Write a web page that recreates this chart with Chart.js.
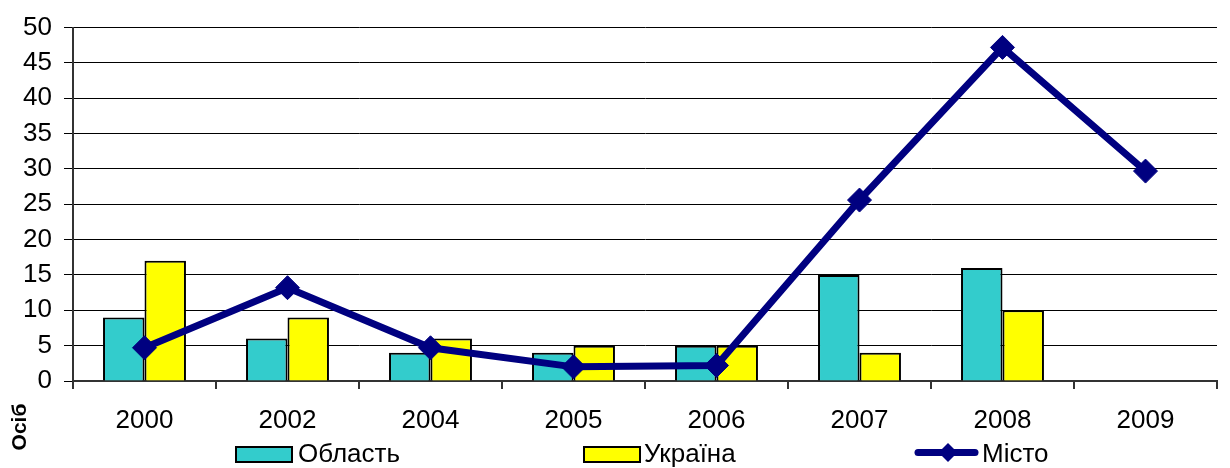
<!DOCTYPE html>
<html>
<head>
<meta charset="utf-8">
<script src="https://cdn.jsdelivr.net/npm/chart.js@4/dist/chart.umd.min.js"></script>
<style>
html,body{margin:0;padding:0;background:#fff;}
#wrap{width:1230px;height:468px;position:relative;}
</style>
</head>
<body>
<div id="wrap"><canvas id="c" width="1230" height="468"></canvas></div>
<script>
const categories = ['2000','2002','2004','2005','2006','2007','2008','2009'];
const oblast = [9, 6, 4, 4, 5, 15, 16, null];
const ukraina = [17, 9, 6, 5, 5, 4, 10, null];
const misto = [4.7, 13.2, 4.7, 2.0, 2.2, 25.6, 47.2, 29.7];
const yTicks = [0, 5, 10, 15, 20, 25, 30, 35, 40, 45, 50];
const axisTitle = 'Осіб';
const seriesNames = ['Область', 'Україна', 'Місто'];

const FONT = '"Liberation Sans", Arial, sans-serif';

const customPlugin = {
  id: 'custom',
  afterDraw(chart) {
    const ctx = chart.ctx;
    ctx.save();
    // y axis title
    ctx.font = 'bold 21px ' + FONT;
    ctx.fillStyle = '#000';
    ctx.translate(20, 427);
    ctx.rotate(-Math.PI / 2);
    ctx.textAlign = 'center';
    ctx.textBaseline = 'middle';
    ctx.fillText(axisTitle, 0, 0);
    ctx.restore();

    // legend
    ctx.save();
    ctx.font = '26px ' + FONT;
    ctx.textBaseline = 'middle';
    ctx.textAlign = 'left';
    const ds = chart.data.datasets;
    const ly = 454.5;
    // Область
    ctx.fillStyle = ds[0].backgroundColor;
    ctx.strokeStyle = '#000';
    ctx.lineWidth = 2;
    ctx.fillRect(236, 447, 56, 15);
    ctx.strokeRect(236, 447, 56, 15);
    ctx.fillStyle = '#000';
    ctx.fillText(ds[0].label, 298, ly);
    // Україна
    ctx.fillStyle = ds[1].backgroundColor;
    ctx.fillRect(584, 447, 56, 15);
    ctx.strokeRect(584, 447, 56, 15);
    ctx.fillStyle = '#000';
    ctx.fillText(ds[1].label, 644, ly);
    // Місто
    const my = 452.5;
    ctx.strokeStyle = ds[2].borderColor;
    ctx.lineWidth = 7;
    ctx.lineCap = 'round';
    ctx.beginPath();
    ctx.moveTo(918, my);
    ctx.lineTo(975, my);
    ctx.stroke();
    ctx.fillStyle = ds[2].borderColor;
    ctx.beginPath();
    const cx = 948, r = 9.5;
    ctx.moveTo(cx, my - r);
    ctx.lineTo(cx + r, my);
    ctx.lineTo(cx, my + r);
    ctx.lineTo(cx - r, my);
    ctx.closePath();
    ctx.fill();
    ctx.fillStyle = '#000';
    ctx.fillText(ds[2].label, 982, ly);
    ctx.restore();
  }
};

new Chart(document.getElementById('c'), {
  data: {
    labels: categories,
    datasets: [
      {
        type: 'bar', label: seriesNames[0], data: oblast,
        backgroundColor: '#33CCCC', borderColor: '#000', borderWidth: 2,
        categoryPercentage: 0.58, barPercentage: 1.0, order: 1
      },
      {
        type: 'bar', label: seriesNames[1], data: ukraina,
        backgroundColor: '#FFFF00', borderColor: '#000', borderWidth: 2,
        categoryPercentage: 0.58, barPercentage: 1.0, order: 1
      },
      {
        type: 'line', label: seriesNames[2], data: misto,
        borderColor: '#000080', backgroundColor: '#000080', borderWidth: 7,
        pointStyle: 'rectRot', pointRadius: 12, pointHoverRadius: 12,
        pointBorderWidth: 1, pointBackgroundColor: '#000080', pointBorderColor: '#000080',
        tension: 0, order: 0
      }
    ]
  },
  options: {
    responsive: false,
    animation: false,
    devicePixelRatio: 1,
    layout: { padding: { left: 0, right: 2, top: 24, bottom: 0 } },
    plugins: { legend: { display: false }, tooltip: { enabled: false } },
    scales: {
      x: {
        type: 'category',
        offset: true,
        grid: { drawOnChartArea: false, offset: true, tickLength: 8, color: '#333', lineWidth: 2 },
        border: { color: '#333', width: 2 },
        ticks: { font: { family: FONT, size: 26 }, color: '#000', padding: 16, maxRotation: 0, autoSkip: false },
        afterFit(scale) { scale.height = 87; }
      },
      y: {
        min: 0, max: 50,
        afterBuildTicks(scale) { scale.ticks = yTicks.map(v => ({ value: v })); },
        grid: { color: '#000', lineWidth: 1, tickLength: 9, tickColor: '#000' },
        border: { color: '#333', width: 2 },
        ticks: { font: { family: FONT, size: 26 }, color: '#000', padding: 12 },
        afterFit(scale) { scale.width = 73; }
      }
    }
  },
  plugins: [customPlugin]
});
</script>
</body>
</html>
